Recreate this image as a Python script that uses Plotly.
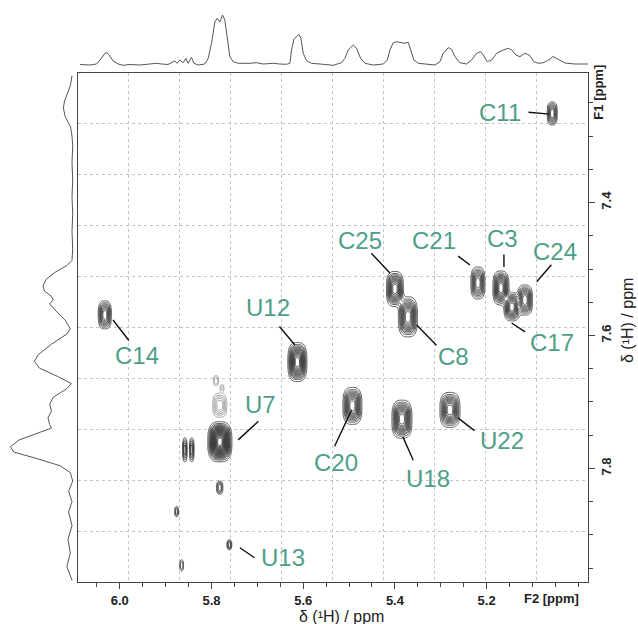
import numpy as np
import plotly.graph_objects as go

# ---------------- axis ranges (ppm) ----------------
F2_RANGE = [6.091, 4.979]   # left -> right (reversed ppm)
F1_RANGE = [7.971, 7.205]   # bottom -> top (reversed ppm)

# ---------------- 2D cross peaks (dark contours) ----------------
peak_name = ["C11", "C14", "U12", "U7", "C20", "U18", "U22", "C25", "C8",
             "C21", "C3", "C17", "C24", "U13", "p1", "p2", "p3", "p4", "p5"]
peak_f2 = [5.057, 6.0325, 5.6127, 5.7817, 5.4927, 5.3847, 5.280, 5.400, 5.3716,
           5.219, 5.1688, 5.1448, 5.1165, 5.761, 5.782, 5.858, 5.843, 5.876, 5.865]
peak_f1 = [7.266, 7.569, 7.640, 7.760, 7.706, 7.726, 7.712, 7.530, 7.572,
           7.521, 7.5286, 7.557, 7.5466, 7.915, 7.829, 7.772, 7.772, 7.865, 7.946]
peak_hw_f2 = [0.0109, 0.0142, 0.0207, 0.0262, 0.0207, 0.0218, 0.0218, 0.0185, 0.0207,
              0.0153, 0.0174, 0.0174, 0.0164, 0.0050, 0.0068, 0.0048, 0.0048, 0.0040, 0.0040]
peak_hw_f1 = [0.0173, 0.0211, 0.0293, 0.0301, 0.0278, 0.0286, 0.0263, 0.0263, 0.0301,
              0.0241, 0.0256, 0.0211, 0.0226, 0.0075, 0.0098, 0.0180, 0.0180, 0.0075, 0.0083]
peak_amp = [0.8, 1.0, 1.7, 2.6, 1.3, 1.4, 1.2, 1.3, 1.3,
            1.0, 1.3, 1.2, 1.1, 0.5, 0.5, 0.6, 0.6, 0.4, 0.3]

# faint (light grey) peaks above U7
faint_f2 = [5.782, 5.790, 5.777]
faint_f1 = [7.705, 7.668, 7.679]
faint_hw_f2 = [0.0153, 0.0055, 0.0040]
faint_hw_f1 = [0.0180, 0.0075, 0.0050]
faint_amp = [0.6, 0.3, 0.25]

# ---------------- 1D projection along F2 (top) ----------------
top_ppm = [6.0866, 6.0652, 6.0507, 6.0398, 6.0325, 6.0274, 6.0216, 6.0143, 6.0034, 5.9925,
           5.9780, 5.9562, 5.9380, 5.9198, 5.9089, 5.8950, 5.8798, 5.8748, 5.8689, 5.8617,
           5.8558, 5.8508, 5.8435, 5.8384, 5.8290, 5.8144, 5.8071, 5.7999, 5.7926, 5.7875,
           5.7817, 5.7759, 5.7708, 5.7657, 5.7599, 5.7526, 5.7417, 5.7163, 5.7017, 5.6872,
           5.6654, 5.6508, 5.6363, 5.6290, 5.6254, 5.6203, 5.6145, 5.6094, 5.6050, 5.5999,
           5.5927, 5.5818, 5.5563, 5.5345, 5.5163, 5.5091, 5.5018, 5.4909, 5.4836, 5.4749,
           5.4654, 5.4473, 5.4254, 5.4167, 5.4109, 5.4036, 5.3964, 5.3877, 5.3782, 5.3709,
           5.3658, 5.3586, 5.3491, 5.3310, 5.3128, 5.3019, 5.2946, 5.2837, 5.2764, 5.2692,
           5.2583, 5.2437, 5.2328, 5.2219, 5.2132, 5.2074, 5.1987, 5.1892, 5.1783, 5.1638,
           5.1529, 5.1456, 5.1361, 5.1274, 5.1165, 5.1071, 5.0969, 5.0874, 5.0765, 5.0678,
           5.0620, 5.0553, 5.0445, 5.0292, 5.0074, 4.9790]
top_int = [0.5, 0.0, 1.0, 6.7, 11.7, 12.3, 9.0, 4.0, 1.0, -0.3,
           0.5, 0.0, 0.8, 1.7, 1.0, 0.5, 4.0, 1.7, 5.0, 2.3,
           6.7, 1.7, 7.7, 1.7, 0.0, 1.0, 6.7, 21.7, 43.0, 46.7,
           43.0, 50.0, 45.0, 25.0, 8.3, 3.3, 1.7, 1.7, 2.3, 1.0,
           1.7, 1.0, 0.7, 1.7, 15.0, 25.7, 28.3, 30.7, 26.7, 11.7,
           4.3, 1.7, 0.7, -0.3, 2.3, 6.7, 15.0, 20.0, 16.7, 6.7,
           1.7, 0.0, 1.0, 5.0, 15.0, 22.3, 23.3, 22.3, 21.7, 22.7,
           15.0, 5.0, 1.7, 0.7, 0.0, 3.3, 11.7, 17.3, 15.7, 8.3,
           2.3, 1.0, 5.0, 11.7, 13.3, 10.0, 3.3, 5.0, 11.7, 15.0,
           16.7, 15.0, 10.0, 8.3, 11.7, 10.0, 3.3, 1.7, 2.3, 4.3,
           5.7, 8.5, 6.0, 2.0, 1.0, 1.0]

# ---------------- 1D projection along F1 (left) ----------------
left_ppm = [7.2089, 7.2243, 7.2372, 7.2475, 7.2578, 7.2707, 7.2861, 7.3000, 7.3145, 7.3402,
            7.3660, 7.3917, 7.4175, 7.4432, 7.4690, 7.4870, 7.4947, 7.5050, 7.5153, 7.5256,
            7.5333, 7.5411, 7.5462, 7.5524, 7.5617, 7.5771, 7.5900, 7.5977, 7.6131, 7.6286,
            7.6389, 7.6492, 7.6621, 7.6724, 7.6801, 7.6930, 7.7033, 7.7136, 7.7239, 7.7342,
            7.7393, 7.7470, 7.7573, 7.7676, 7.7754, 7.7857, 7.7960, 7.8063, 7.8191, 7.8346,
            7.8500, 7.8655, 7.8861, 7.9067, 7.9273, 7.9479, 7.9685]
left_int = [0.0, 1.7, 5.0, 7.5, 8.6, 6.8, 1.5, 0.0, -0.7, 0.0,
            -0.7, 0.0, -0.7, 0.0, -0.7, 0.0, 5.1, 17.0, 25.7, 29.1,
            27.4, 20.5, 18.8, 22.3, 17.0, 6.8, 1.7, 5.1, 20.5, 33.6,
            37.7, 32.5, 13.7, 0.7, 5.1, 18.8, 22.3, 20.5, 24.0, 22.3,
            20.5, 34.2, 53.0, 61.6, 58.2, 34.2, 12.0, 1.7, -0.7, 3.4,
            0.0, 3.4, 0.0, 4.0, 1.7, 5.1, 0.0]

# ---------------- ticks ----------------
f2_tick_vals = [6.0, 5.8, 5.6, 5.4, 5.2]
f2_tick_text = ["6.0", "5.8", "5.6", "5.4", "5.2"]
f2_minor_vals = [6.05, 6.00, 5.95, 5.90, 5.85, 5.80, 5.75, 5.70, 5.65, 5.60, 5.55,
                 5.50, 5.45, 5.40, 5.35, 5.30, 5.25, 5.20, 5.15, 5.10, 5.05, 5.00]
f1_tick_vals = [7.4, 7.6, 7.8]
f1_tick_text = ["7.4", "7.6", "7.8"]
f1_minor_vals = [7.25, 7.30, 7.35, 7.40, 7.45, 7.50, 7.55, 7.60, 7.65, 7.70, 7.75,
                 7.80, 7.85, 7.90, 7.95]

# ---------------- labels: text, label centre, leader line (peak end, label end) ----------------
lab_text = ["C11", "C14", "U12", "U7", "C20", "U18", "U22", "C25", "C8", "C21", "C3", "C24", "C17", "U13"]
lab_f2 = [5.171, 5.9627, 5.6759, 5.6923, 5.5287, 5.328, 5.1666, 5.4763, 5.2713, 5.3149, 5.1644, 5.051, 5.0565, 5.6443]
lab_f1 = [7.2639, 7.6308, 7.5579, 7.7045, 7.7917, 7.8158, 7.7586, 7.4564, 7.6323, 7.4564, 7.4534, 7.4729, 7.6113, 7.9346]
lead_pk_f2 = [5.063, 6.0146, 5.6181, 5.7418, 5.4944, 5.3826, 5.2626, 5.4109, 5.3527, 5.2364, 5.1623, 5.0909, 5.1455, 5.738]
lead_pk_f1 = [7.2669, 7.5767, 7.6143, 7.7571, 7.712, 7.7526, 7.724, 7.506, 7.5842, 7.4939, 7.497, 7.5191, 7.5812, 7.9195]
lead_lb_f2 = [5.112, 5.9775, 5.6545, 5.6944, 5.533, 5.3586, 5.2233, 5.4545, 5.3062, 5.2654, 5.1623, 5.0560, 5.1128, 5.703]
lead_lb_f1 = [7.2639, 7.6098, 7.5842, 7.7271, 7.769, 7.790, 7.745, 7.474, 7.6168, 7.479, 7.4759, 7.4914, 7.5962, 7.936]

# ---------------- build 2D intensity grids from the peak tables ----------------
L0 = 0.1      # lowest contour level
Q = 2.6       # peak-shape exponent (flat-topped, steep-edged peaks)
gx = np.linspace(min(F2_RANGE), max(F2_RANGE), 540)
gy = np.linspace(min(F1_RANGE), max(F1_RANGE), 540)
GX, GY = np.meshgrid(gx, gy)


def field(f2s, f1s, hw2s, hw1s, amps):
    z = np.zeros_like(GX)
    for x0, y0, h2, h1, a in zip(f2s, f1s, hw2s, hw1s, amps):
        r0 = np.log(a / L0) ** (1.0 / Q)
        s2, s1 = h2 / r0, h1 / r0
        r = (np.abs((GX - x0) / s2) ** 3 + np.abs((GY - y0) / s1) ** 3) ** (1.0 / 3.0)
        z += a * np.exp(-r ** Q)
    return np.round(z, 3)


z_main = field(peak_f2, peak_f1, peak_hw_f2, peak_hw_f1, peak_amp)
z_faint = field(faint_f2, faint_f1, faint_hw_f2, faint_hw_f1, faint_amp)

TEAL = "#4f9e88"
AX = "#444444"
FONT = "Liberation Sans, Arial, sans-serif"

fig = go.Figure()

fig.add_trace(go.Contour(
    x=gx, y=gy, z=z_faint, xaxis="x", yaxis="y",
    contours=dict(start=L0, end=3.0, size=0.1, coloring="lines"),
    colorscale=[[0, "#9c9c9c"], [1, "#9c9c9c"]], showscale=False,
    line=dict(width=0.9, smoothing=1), hoverinfo="skip"))

fig.add_trace(go.Contour(
    x=gx, y=gy, z=z_main, xaxis="x", yaxis="y",
    contours=dict(start=L0, end=3.0, size=0.1, coloring="lines"),
    colorscale=[[0, "#3c3c3c"], [1, "#3c3c3c"]], showscale=False,
    line=dict(width=0.85, smoothing=1), hoverinfo="skip"))

# top projection
fig.add_trace(go.Scatter(x=top_ppm, y=top_int, xaxis="x2", yaxis="y2", mode="lines",
                         line=dict(color="#555555", width=1), hoverinfo="skip"))
# left projection
fig.add_trace(go.Scatter(x=left_int, y=left_ppm, xaxis="x3", yaxis="y3", mode="lines",
                         line=dict(color="#555555", width=1), hoverinfo="skip"))
# carrier for the tick axes
fig.add_trace(go.Scatter(x=[None], y=[None], xaxis="x4", yaxis="y4", mode="markers",
                         hoverinfo="skip"))

XD = [0.12521, 1.0]
YD = [0.0, 0.88215]
grid_x = list(np.linspace(F2_RANGE[0], F2_RANGE[1], 11)[1:-1])
grid_y = list(np.linspace(F1_RANGE[0], F1_RANGE[1], 11)[1:-1])

tickfont = dict(family=FONT, size=13, color="#222222", weight="bold")

fig.update_layout(
    width=638, height=624,
    margin=dict(l=5, r=50, t=5, b=42),
    paper_bgcolor="white", plot_bgcolor="white",
    showlegend=False, hovermode=False,
    xaxis=dict(domain=XD, range=F2_RANGE, anchor="y", tickmode="array", tickvals=grid_x,
               showticklabels=False, ticks="", showgrid=True, griddash="dot",
               gridcolor="#c4c4c4", gridwidth=1, zeroline=False,
               showline=True, mirror=True, linecolor=AX, linewidth=1),
    yaxis=dict(domain=YD, range=F1_RANGE, anchor="x", side="right", tickmode="array",
               tickvals=grid_y, showticklabels=False, ticks="", showgrid=True,
               griddash="dot", gridcolor="#c4c4c4", gridwidth=1, zeroline=False,
               showline=True, mirror=True, linecolor=AX, linewidth=1),
    xaxis2=dict(domain=XD, range=F2_RANGE, anchor="y2", visible=False),
    yaxis2=dict(domain=[0.88735, 0.99480], range=[-5, 57], anchor="x2", visible=False),
    xaxis3=dict(domain=[0.0, 0.12007], range=[67, -3], anchor="y3", visible=False),
    yaxis3=dict(domain=YD, range=F1_RANGE, anchor="x3", visible=False),
    xaxis4=dict(overlaying="x", range=F2_RANGE, anchor="y", side="bottom",
                tickmode="array", tickvals=f2_tick_vals, ticktext=f2_tick_text,
                ticks="outside", ticklen=6, tickwidth=1, tickcolor=AX,
                minor=dict(tickmode="array", tickvals=f2_minor_vals, ticks="outside",
                           ticklen=4, tickwidth=1, tickcolor=AX),
                showgrid=False, zeroline=False, showline=False, tickfont=tickfont),
    yaxis4=dict(overlaying="y", range=F1_RANGE, anchor="x", side="right",
                tickmode="array", tickvals=f1_tick_vals, ticktext=f1_tick_text,
                ticks="outside", ticklen=6, tickwidth=1, tickcolor=AX, tickangle=-90,
                minor=dict(tickmode="array", tickvals=f1_minor_vals, ticks="outside",
                           ticklen=4, tickwidth=1, tickcolor=AX),
                showgrid=False, zeroline=False, showline=False, tickfont=tickfont),
)

ann = []
for t, lx, ly, px, py, qx, qy in zip(lab_text, lab_f2, lab_f1, lead_pk_f2, lead_pk_f1,
                                     lead_lb_f2, lead_lb_f1):
    ann.append(dict(x=px, y=py, xref="x", yref="y", ax=qx, ay=qy, axref="x", ayref="y",
                    text="", showarrow=True, arrowhead=0, arrowwidth=1.4,
                    arrowcolor="#111111", standoff=0, startstandoff=0))
    ann.append(dict(x=lx, y=ly, xref="x", yref="y", text=t, showarrow=False,
                    xanchor="center", yanchor="middle",
                    font=dict(family=FONT, size=24, color=TEAL)))

# axis names / titles
ann.append(dict(x=0.938, y=-0.0280, xref="paper", yref="paper", text="F2 [ppm]",
                showarrow=False, xanchor="center", yanchor="middle", font=tickfont))
ann.append(dict(x=1.0165, y=0.8492, xref="paper", yref="paper", text="F1 [ppm]",
                showarrow=False, xanchor="center", yanchor="middle", textangle=-90,
                font=tickfont))
ann.append(dict(x=0.578, y=-0.0590, xref="paper", yref="paper", text="δ (¹H) / ppm",
                showarrow=False, xanchor="center", yanchor="middle",
                font=dict(family=FONT, size=16, color="#222222")))
ann.append(dict(x=1.0686, y=0.4541, xref="paper", yref="paper", text="δ (¹H) / ppm",
                showarrow=False, xanchor="center", yanchor="middle", textangle=-90,
                font=dict(family=FONT, size=16, color="#222222")))
fig.update_layout(annotations=ann)

fig.write_html("out.html", config={"displayModeBar": False},
               post_script="document.body.style.margin='0px';")
